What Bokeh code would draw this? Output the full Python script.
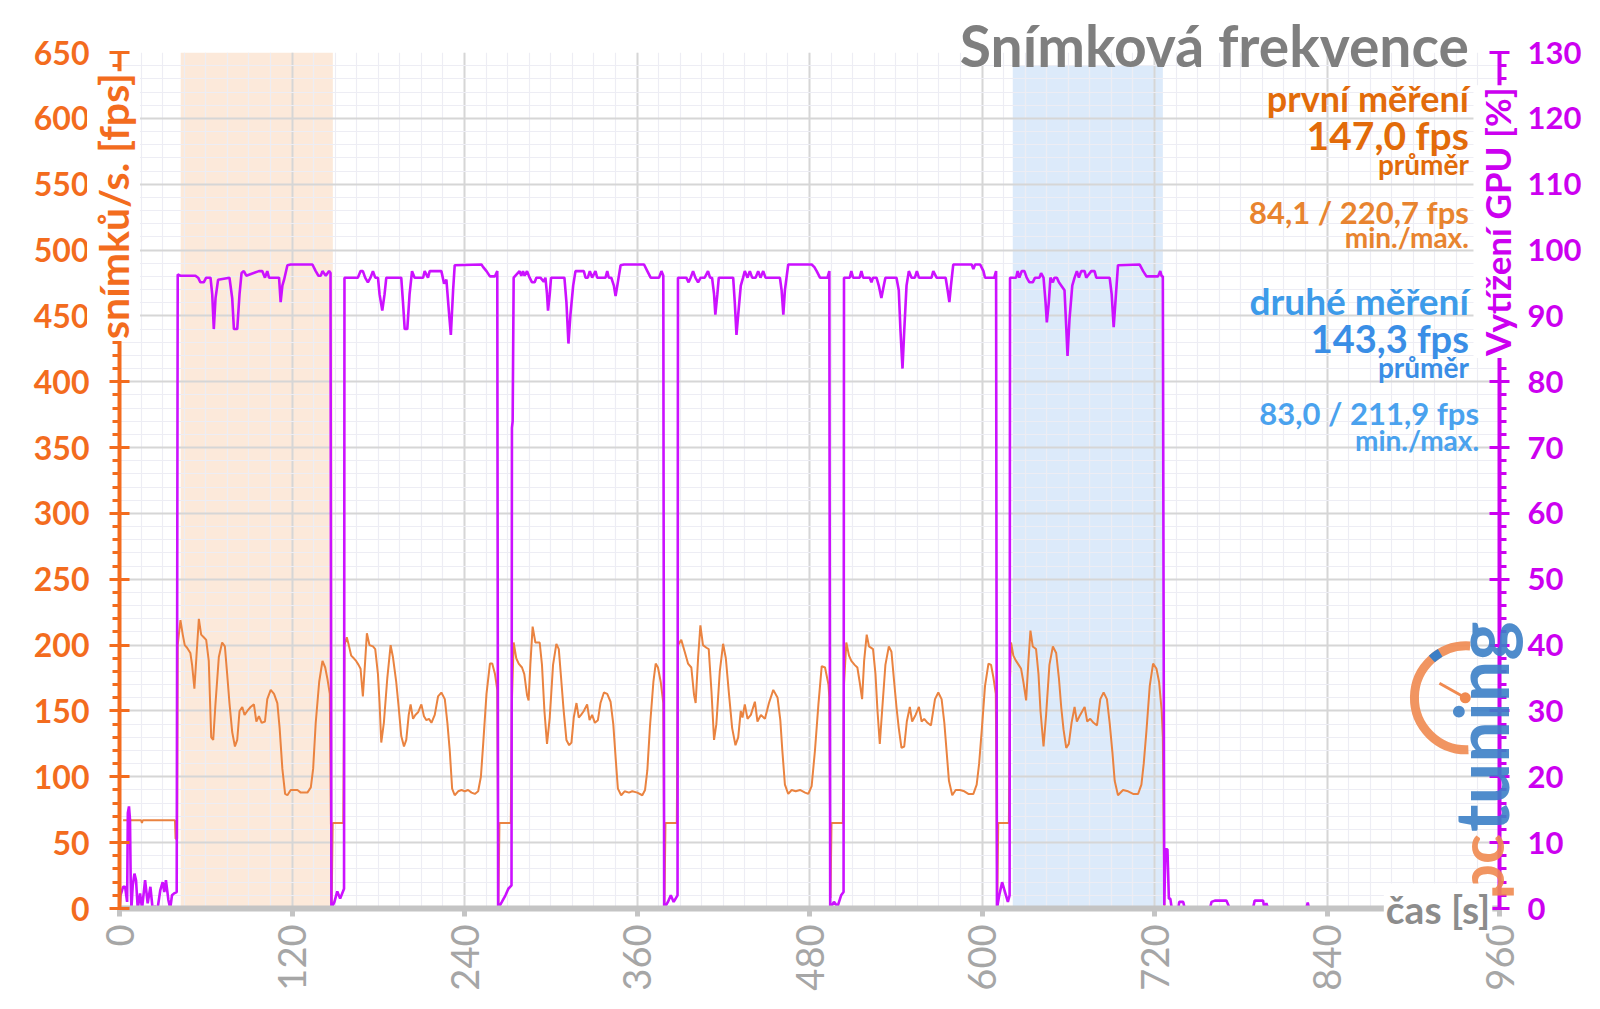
from math import pi
from bokeh.plotting import figure
from bokeh.models import Range1d, LinearAxis, FixedTicker, Label
from bokeh.core.properties import value
from bokeh.embed import file_html
from bokeh.resources import INLINE

# ---------------- data ----------------
run_start = [40.5, 156.5, 273.0, 388.5, 504.0, 619.5]
run_end = [147.0, 263.0, 378.5, 494.0, 610.0, 726.0]

band_left = [42.6, 621.4]
band_right = [148.4, 725.8]
band_top = [650, 640]
band_colors = ["#FCE9DA", "#DCEAFA"]

pre_fps = [(2.5, 67), (15.0, 67), (15.6, 65), (16.2, 67), (38.6, 67), (39.0, 53), (40.1, 53)]
pre_gpu = [(0.0, 0.0), (0.7, 2.0), (2.5, 3.3), (3.9, 3.3), (5.3, 1.0), (5.8, 14.5), (6.6, 15.5),
           (7.3, 13.5), (7.8, 4.0), (8.3, 0.0), (9.2, 3.5), (10.4, 5.3), (11.5, 4.3), (12.7, 0.0),
           (14.3, 2.3), (15.7, 0.0), (17.8, 4.3), (19.6, 0.8), (21.5, 3.3), (23.0, 0.0), (24.7, 0.3),
           (26.5, 0.0), (28.4, 2.8), (30.0, 4.0), (31.2, 2.5), (32.3, 4.3), (34.0, 1.3), (35.3, 0.0),
           (36.5, 2.0), (38.0, 2.3), (39.8, 2.5)]

run1_fps = [(0.0, 200), (1.9, 219), (3.5, 208), (4.9, 200), (6.5, 198), (8.8, 194), (10.0, 185), (11.6, 167),
            (13.0, 191), (14.7, 220), (16.3, 208), (18.1, 206), (19.8, 204), (21.6, 188), (23.3, 130),
            (24.7, 128), (26.3, 156), (28.6, 191), (30.9, 202), (32.8, 199), (34.4, 178), (36.0, 156),
            (37.9, 134), (39.8, 123), (41.4, 128), (43.0, 150), (44.9, 153), (46.5, 147), (48.4, 150),
            (50.7, 153), (53.0, 155), (54.7, 142), (56.5, 146), (58.4, 141), (60.7, 142), (62.3, 159),
            (64.7, 166), (67.0, 163), (69.3, 156), (70.9, 137), (72.8, 106), (74.7, 87), (76.3, 86),
            (78.6, 90), (83.3, 90), (85.6, 88), (90.2, 88), (92.6, 92), (94.2, 106), (96.0, 141),
            (98.4, 172), (100.7, 188), (102.6, 183), (104.2, 174), (105.8, 163)]
run2_fps = [(0.0, 200), (1.6, 206), (3.0, 200), (4.7, 192), (6.5, 190), (8.1, 188), (9.8, 185), (11.2, 182),
            (12.8, 161), (14.4, 188), (15.6, 209), (17.4, 200), (19.8, 199), (21.4, 197), (23.3, 178),
            (24.4, 156), (25.6, 126), (27.4, 141), (29.8, 175), (32.1, 200), (33.7, 191), (36.0, 172),
            (37.7, 153), (39.5, 131), (41.4, 123), (43.0, 128), (44.7, 147), (46.0, 155), (47.7, 144),
            (49.3, 147), (51.2, 149), (53.5, 155), (55.3, 146), (57.0, 143), (58.8, 144), (60.5, 141),
            (62.8, 147), (65.1, 161), (67.4, 164), (69.8, 159), (71.6, 141), (73.3, 119), (74.9, 91),
            (76.7, 86), (79.1, 89), (81.4, 90), (83.7, 89), (86.0, 90), (88.4, 88), (90.7, 87), (93.0, 89),
            (94.9, 100), (96.5, 125), (98.8, 163), (101.2, 186), (102.8, 186), (104.7, 178), (106.3, 166)]
run3_fps = [(0.0, 158), (1.2, 202), (3.0, 190), (4.7, 186), (7.0, 183), (8.6, 178), (10.5, 162), (11.6, 158),
            (12.8, 185), (14.4, 214), (16.3, 202), (19.3, 202), (20.9, 185), (22.6, 150), (24.4, 125),
            (26.3, 145), (28.6, 185), (30.9, 201), (32.6, 197), (34.2, 175), (36.0, 150), (37.9, 128),
            (39.8, 124), (41.4, 126), (43.0, 145), (44.9, 156), (46.5, 145), (48.1, 147), (50.0, 150),
            (52.3, 155), (54.0, 143), (55.8, 147), (57.7, 141), (59.8, 143), (61.6, 156), (64.0, 164),
            (66.3, 163), (68.6, 157), (70.5, 140), (72.1, 115), (73.7, 91), (76.0, 86), (78.4, 89),
            (81.4, 88), (83.7, 89), (87.2, 88), (90.7, 86), (92.6, 90), (94.2, 105), (96.0, 138),
            (98.4, 172), (100.0, 186), (101.6, 183), (103.5, 172), (105.3, 156)]
run4_fps = [(0.0, 200), (2.3, 204), (4.7, 195), (7.0, 186), (9.3, 183), (11.2, 162), (12.3, 156), (14.0, 190),
            (15.6, 215), (17.4, 200), (19.8, 198), (21.4, 197), (23.3, 165), (25.1, 128), (26.7, 140),
            (29.1, 180), (31.4, 201), (33.3, 190), (35.3, 165), (37.7, 137), (40.0, 124), (41.9, 130),
            (43.7, 150), (44.9, 145), (46.5, 155), (48.4, 144), (50.7, 147), (53.5, 157), (55.3, 142),
            (57.7, 147), (60.5, 144), (63.3, 156), (66.3, 166), (69.3, 160), (71.2, 143), (72.6, 120),
            (74.4, 94), (76.7, 87), (79.1, 90), (81.9, 89), (84.9, 90), (88.4, 88), (90.7, 87), (93.0, 93),
            (95.3, 120), (97.7, 155), (100.0, 184), (102.3, 183), (104.7, 170), (105.3, 160)]
run5_fps = [(0.0, 170), (1.6, 202), (3.5, 192), (5.1, 188), (7.4, 185), (9.3, 183), (10.9, 172), (12.6, 159),
            (14.0, 188), (15.8, 208), (17.4, 199), (20.2, 197), (21.9, 178), (23.3, 150), (24.9, 125),
            (26.5, 150), (28.8, 185), (31.2, 199), (33.0, 195), (34.9, 172), (36.5, 153), (38.1, 137),
            (40.0, 122), (41.9, 123), (43.7, 142), (45.8, 153), (47.4, 142), (49.8, 147), (52.1, 153),
            (54.0, 142), (55.8, 144), (58.1, 141), (60.5, 139), (63.3, 159), (65.6, 164), (67.9, 159),
            (69.8, 141), (71.4, 119), (73.0, 97), (75.3, 86), (77.7, 90), (80.7, 90), (83.7, 89),
            (86.5, 87), (90.0, 87), (92.3, 94), (94.0, 110), (95.8, 135), (98.1, 169), (100.5, 186),
            (102.3, 185), (104.0, 175), (105.6, 163)]
run6_fps = [(0.0, 175), (0.7, 202), (2.3, 192), (4.2, 188), (6.0, 185), (7.7, 182), (9.3, 172), (11.2, 158),
            (12.8, 188), (14.2, 211), (15.8, 199), (18.1, 197), (19.8, 178), (21.2, 150), (23.3, 123),
            (25.1, 147), (27.4, 185), (29.8, 199), (32.1, 194), (34.0, 175), (35.6, 153), (37.2, 136),
            (39.1, 122), (40.9, 125), (42.8, 141), (44.9, 153), (46.5, 142), (48.8, 147), (51.9, 153),
            (53.7, 142), (55.8, 144), (58.1, 141), (60.5, 139), (62.8, 159), (65.1, 164), (67.4, 159),
            (69.3, 141), (71.2, 119), (72.8, 97), (75.1, 86), (78.6, 90), (82.1, 89), (85.6, 87),
            (89.1, 87), (91.4, 94), (93.0, 110), (94.9, 135), (97.2, 169), (99.5, 186), (101.9, 182),
            (103.7, 172), (105.5, 150), (106.3, 130)]

run1_gpu = [(0.0, 96.3), (1.9, 96.1), (12.3, 96.1), (14.2, 95.8), (15.8, 95.1), (18.1, 95.1), (19.8, 95.8),
            (22.8, 95.8), (24.0, 93.3), (25.1, 88.0), (26.3, 92.7), (28.1, 95.5), (36.0, 95.8), (37.9, 92.7),
            (39.1, 88.0), (41.4, 88.0), (43.0, 93.3), (44.4, 96.5), (46.0, 96.8), (47.7, 96.1), (56.5, 96.8),
            (58.8, 96.8), (60.7, 95.8), (62.3, 96.8), (63.5, 95.8), (70.5, 95.8), (71.6, 92.1), (72.8, 94.6),
            (74.0, 95.5), (76.3, 97.7), (78.6, 97.8), (93.7, 97.8), (96.0, 96.8), (97.9, 96.1), (99.5, 96.1),
            (100.7, 96.8), (103.0, 96.1), (105.3, 96.8), (106.3, 96.5)]
run2_gpu = [(0.0, 95.8), (9.3, 95.8), (11.2, 96.8), (12.8, 96.8), (14.4, 95.8), (16.3, 95.1), (18.1, 95.8),
            (19.8, 96.8), (21.4, 95.8), (23.3, 95.8), (24.4, 93.3), (26.3, 90.8), (27.9, 93.3), (29.1, 95.8),
            (39.5, 95.8), (40.7, 92.1), (41.9, 88.0), (43.7, 88.0), (45.3, 93.3), (47.0, 96.8), (48.8, 95.8),
            (54.7, 95.8), (55.8, 96.8), (58.1, 95.8), (59.3, 96.8), (67.4, 96.8), (69.3, 94.9), (70.9, 95.5),
            (72.6, 90.8), (74.0, 87.1), (75.6, 94.0), (76.7, 97.7), (95.3, 97.8), (96.5, 97.4), (98.8, 96.8),
            (101.2, 96.0), (104.7, 96.0), (106.3, 96.8)]
run3_gpu = [(0.0, 73.0), (0.5, 74.0), (1.2, 95.8), (5.3, 96.8), (6.5, 96.1), (7.7, 96.8), (8.8, 96.1),
            (10.5, 96.8), (12.3, 95.8), (14.0, 95.1), (15.8, 95.1), (17.0, 95.8), (19.8, 95.8), (22.1, 95.2),
            (23.3, 95.8), (24.4, 93.3), (25.1, 90.8), (26.3, 93.3), (27.2, 95.8), (36.5, 95.8), (37.9, 92.1),
            (39.3, 85.8), (40.7, 90.2), (42.6, 94.6), (44.2, 96.8), (50.0, 96.8), (51.2, 95.8), (52.8, 95.8),
            (54.2, 96.8), (55.8, 95.8), (58.1, 96.8), (59.3, 95.8), (65.1, 95.8), (66.3, 96.8), (67.4, 95.8),
            (69.1, 95.8), (70.9, 94.6), (72.1, 93.0), (73.3, 94.6), (75.6, 97.7), (77.9, 97.8), (91.9, 97.8),
            (94.2, 96.8), (96.5, 95.8), (102.3, 95.8), (104.0, 96.8), (105.3, 96.1)]
run4_gpu = [(0.0, 95.8), (5.8, 95.8), (7.4, 95.1), (8.8, 95.8), (10.5, 96.8), (12.1, 95.8), (14.0, 95.1),
            (15.8, 95.8), (18.6, 95.8), (20.9, 96.8), (22.3, 95.8), (23.7, 95.8), (25.1, 93.3), (26.0, 90.2),
            (27.4, 93.3), (28.4, 95.8), (38.4, 95.8), (39.5, 92.1), (40.7, 87.1), (41.9, 90.2), (43.7, 94.6),
            (45.3, 95.8), (46.5, 96.8), (48.4, 95.8), (50.0, 96.8), (51.6, 95.8), (54.0, 95.8), (55.8, 96.8),
            (57.4, 95.8), (59.3, 96.8), (60.9, 95.8), (70.9, 95.8), (72.1, 93.9), (73.3, 90.2), (74.4, 93.9),
            (76.7, 97.8), (93.0, 97.8), (94.9, 97.4), (96.5, 96.8), (98.8, 95.8), (104.0, 95.8), (105.3, 96.8)]
run5_gpu = [(0.0, 95.8), (4.0, 95.8), (5.1, 96.8), (6.3, 95.8), (10.9, 95.8), (12.1, 96.8), (13.3, 95.8),
            (17.9, 95.8), (19.1, 95.1), (20.2, 95.8), (22.6, 95.8), (24.2, 94.6), (26.0, 92.7), (27.7, 94.6),
            (28.8, 95.8), (36.5, 95.8), (38.1, 93.9), (39.3, 87.7), (40.7, 82.0), (41.9, 87.7), (43.5, 94.6),
            (45.1, 96.8), (47.0, 95.8), (49.3, 95.8), (50.7, 96.8), (52.1, 95.8), (60.9, 95.8), (62.1, 96.8),
            (64.4, 95.8), (70.7, 95.8), (72.1, 93.9), (73.3, 92.1), (74.4, 94.6), (76.0, 97.8), (88.8, 97.8),
            (90.0, 97.1), (91.2, 97.8), (94.7, 97.8), (97.0, 96.8), (98.1, 95.8), (104.5, 95.8), (105.8, 96.8)]
run6_gpu = [(0.0, 95.8), (4.2, 95.8), (5.3, 96.8), (6.5, 95.8), (8.1, 96.8), (10.0, 96.8), (11.6, 95.8),
            (13.5, 95.1), (15.8, 95.1), (17.4, 95.8), (20.5, 95.8), (21.6, 96.5), (23.3, 95.8), (24.7, 92.1),
            (25.6, 89.0), (27.0, 92.1), (28.1, 95.8), (29.8, 95.1), (30.9, 95.8), (32.6, 95.8), (34.0, 95.1),
            (37.9, 93.9), (39.1, 88.3), (40.0, 83.9), (41.4, 89.6), (43.3, 94.6), (44.9, 95.8), (46.5, 96.8),
            (47.9, 95.8), (49.5, 96.8), (51.9, 96.8), (53.0, 95.8), (56.5, 96.8), (58.8, 96.8), (60.0, 95.8),
            (69.3, 95.8), (70.7, 93.3), (72.1, 88.3), (73.5, 92.7), (75.1, 97.7), (90.2, 97.8), (92.6, 96.8),
            (94.9, 96.0), (103.0, 96.0), (104.5, 96.8), (105.5, 96.0), (106.3, 96.0)]

gap_fps = [[(0.6, 3), (1.3, 65), (8.7, 65)],
           [(0.6, 3), (1.3, 65), (9.2, 65)],
           [(0.6, 3), (1.3, 65), (9.2, 65)],
           [(0.6, 8), (1.3, 65), (9.2, 65)],
           [(0.6, 3), (1.3, 65), (8.7, 65)]]
gap_gpu = [[(0.4, 0.0), (2.5, 1.0), (4.5, 2.6), (6.5, 1.5), (9.2, 3.0)],
           [(0.4, 0.0), (3.0, 1.0), (5.5, 2.0), (7.5, 3.0), (9.7, 3.5)],
           [(0.4, 0.0), (3.0, 1.0), (5.0, 2.0), (7.0, 1.0), (9.7, 2.0)],
           [(0.4, 0.0), (3.0, 1.0), (5.5, 0.3), (8.0, 2.0), (9.7, 2.5)],
           [(0.4, 0.0), (2.0, 2.0), (4.0, 4.0), (6.0, 2.5), (8.0, 1.0), (9.2, 2.0)]]

post_fps = [(726.9, 0.0), (840.0, 0.0)]
post_gpu = [(726.8, 0.5), (727.6, 9.0), (729.0, 9.0), (730.0, 1.5), (731.0, 1.5), (732.0, 0.0), (736.6, 0.0),
            (737.2, 1.0), (740.0, 1.0), (741.0, 0.0), (758.5, 0.0), (759.7, 1.0), (762.0, 1.2), (770.0, 1.2),
            (772.4, 0.0), (788.5, 0.0), (789.7, 1.2), (795.5, 1.2), (796.5, 0.0), (797.8, 0.8), (799.0, 0.0),
            (825.5, 0.0), (826.6, 0.9), (827.5, 0.0), (840.0, 0.0)]

x_ticks = [0, 120, 240, 360, 480, 600, 720, 840, 960]
fps_ticks = list(range(0, 651, 50))
gpu_ticks = list(range(0, 131, 10))


def assemble(pre, runs, gaps, post):
    t, v = [], []
    for a, b in pre:
        t.append(a); v.append(b)
    for i, run in enumerate(runs):
        for dt, val in run:
            t.append(run_start[i] + dt); v.append(val)
        if i < len(gaps):
            for dt, val in gaps[i]:
                t.append(run_end[i] + dt); v.append(val)
    for a, b in post:
        t.append(a); v.append(b)
    return t, v


fps_t, fps_v = assemble(pre_fps, [run1_fps, run2_fps, run3_fps, run4_fps, run5_fps, run6_fps], gap_fps, post_fps)
gpu_t, gpu_v = assemble(pre_gpu, [run1_gpu, run2_gpu, run3_gpu, run4_gpu, run5_gpu, run6_gpu], gap_gpu, post_gpu)

# ---------------- figure ----------------
FONT = "Lato"
ORANGE_AX = "#F36C1E"
PURPLE_AX = "#CC00F0"

p = figure(width=1584, height=993,
           x_range=Range1d(0, 960), y_range=Range1d(0, 650),
           output_backend="svg", toolbar_location=None,
           min_border_left=119, min_border_right=83, min_border_top=52, min_border_bottom=82,
           background_fill_color="white", border_fill_color="white", outline_line_color=None)
p.extra_y_ranges = {"gpu": Range1d(0, 130)}

p.quad(left=band_left, right=band_right, bottom=[0, 0], top=band_top,
       fill_color=band_colors, line_color=None, level="image")

xt = FixedTicker(ticks=x_ticks, minor_ticks=list(range(0, 961, 15)))
yt = FixedTicker(ticks=fps_ticks, minor_ticks=list(range(0, 651, 10)))
p.xaxis.ticker = xt
p.yaxis.ticker = yt
p.xgrid.ticker = xt
p.ygrid.ticker = yt
for g in (p.xgrid, p.ygrid):
    g.grid_line_color = "#D6D6D6"
    g.grid_line_width = 2
    g.minor_grid_line_color = "#EDEDF4"
    g.minor_grid_line_width = 1.2

xa = p.xaxis[0]
xa.axis_line_color = "#C4C4C4"
xa.axis_line_width = 6
xa.major_tick_line_color = "#C4C4C4"
xa.major_tick_line_width = 5
xa.major_tick_in = 0
xa.major_tick_out = 8
xa.minor_tick_line_color = None
xa.major_label_orientation = pi / 2
xa.major_label_text_font = FONT
xa.major_label_text_font_size = "38px"
xa.major_label_text_color = "#A6A6A6"
xa.major_label_standoff = 8

ya = p.yaxis[0]
ya.axis_line_color = ORANGE_AX
ya.axis_line_width = 4
ya.major_tick_line_color = ORANGE_AX
ya.major_tick_line_width = 3
ya.major_tick_in = 10
ya.major_tick_out = 10
ya.minor_tick_line_color = ORANGE_AX
ya.minor_tick_line_width = 3
ya.minor_tick_in = 1
ya.minor_tick_out = 7
ya.major_label_text_font = FONT
ya.major_label_text_font_style = "bold"
ya.major_label_text_font_size = "32px"
ya.major_label_text_color = ORANGE_AX
ya.major_label_standoff = 20

ra = LinearAxis(y_range_name="gpu",
                ticker=FixedTicker(ticks=gpu_ticks, minor_ticks=list(range(0, 131, 2))))
ra.axis_line_color = PURPLE_AX
ra.axis_line_width = 4
ra.major_tick_line_color = PURPLE_AX
ra.major_tick_line_width = 3
ra.major_tick_in = 10
ra.major_tick_out = 10
ra.minor_tick_line_color = PURPLE_AX
ra.minor_tick_line_width = 3
ra.minor_tick_in = 1
ra.minor_tick_out = 7
ra.major_label_text_font = FONT
ra.major_label_text_font_style = "bold"
ra.major_label_text_font_size = "31px"
ra.major_label_text_color = PURPLE_AX
ra.major_label_standoff = 18
p.add_layout(ra, "right")

# logo (pctuning watermark)
LOGO_OR = "#F08A50"
LOGO_BL = "#3C7FC6"
p.arc(x=[937.0], y=[160], radius=52, radius_units="screen", start_angle=1.5, end_angle=4.75,
      line_color=LOGO_OR, line_width=9, line_alpha=0.9)
p.arc(x=[937.0], y=[160], radius=52, radius_units="screen", start_angle=2.1, end_angle=2.3,
      line_color=LOGO_BL, line_width=9)
p.segment(x0=[936.2], y0=[160], x1=[918.2], y1=[171], line_color=LOGO_OR, line_width=3)
p.scatter(x=[936.2], y=[160], size=11, fill_color=LOGO_OR, line_color=None)


def otext(x, y, s, size, color, angle=0.0, align="left", baseline="alphabetic", x_offset=0, bg=None, alpha=1.0):
    kw = {}
    if bg:
        kw = dict(background_fill_color=bg, padding=2)
    p.text(x=[x], y=[y], text=[s], angle=angle, x_offset=x_offset, text_align=align, text_baseline=baseline,
           text_font=value(FONT), text_font_style="bold", text_font_size=size, text_color=color,
           text_alpha=alpha, level="overlay", **kw)


otext(946.5, 7.0, "pc", "62px", LOGO_OR, angle=pi / 2, alpha=0.9)
otext(946.5, 58.0, "tuning", "74px", LOGO_BL, angle=pi / 2, alpha=0.9)

p.line(fps_t, fps_v, line_color="#EA8340", line_width=2.0)
p.line(gpu_t, gpu_v, y_range_name="gpu", line_color="#CC11FF", line_width=2.6)

# axis titles drawn over the axis lines
otext(0, 431, "snímků/s. [fps]", "41px", ORANGE_AX, angle=pi / 2, baseline="middle", x_offset=-6, bg="white")
otext(960, 418, "Vytížení GPU [%]", "35px", PURPLE_AX, angle=pi / 2, baseline="middle", x_offset=-3, bg="white")
otext(955, 0, "čas [s]", "39px", "#8C8C8C", align="right", baseline="middle", bg="white")
otext(938.7, 656.0, "Snímková frekvence", "57px", "#7F7F7F", align="right")


def txt(x, y, s, size, color):
    p.add_layout(Label(x=x, y=y, text=s, text_align="right", text_baseline="alphabetic",
                       text_font=FONT, text_font_style="bold", text_font_size=size, text_color=color))


txt(938.7, 615.5, "první měření", "36px", "#E26B0A")
txt(938.7, 587.0, "147,0 fps", "39px", "#E26B0A")
txt(938.7, 565.0, "průměr", "28px", "#E26B0A")
txt(938.7, 529.0, "84,1 / 220,7 fps", "31px", "#E8842F")
txt(938.7, 510.0, "min./max.", "28px", "#E8842F")
txt(938.7, 462.0, "druhé měření", "37px", "#3D9BE9")
txt(938.7, 433.0, "143,3 fps", "38px", "#3A8EE6")
txt(938.7, 411.5, "průměr", "28px", "#3A8EE6")
txt(945.8, 376.0, "83,0 / 211,9 fps", "31px", "#4AA2EE")
txt(945.8, 355.5, "min./max.", "28px", "#4AA2EE")

open("out.html", "w").write(file_html(p, INLINE))
